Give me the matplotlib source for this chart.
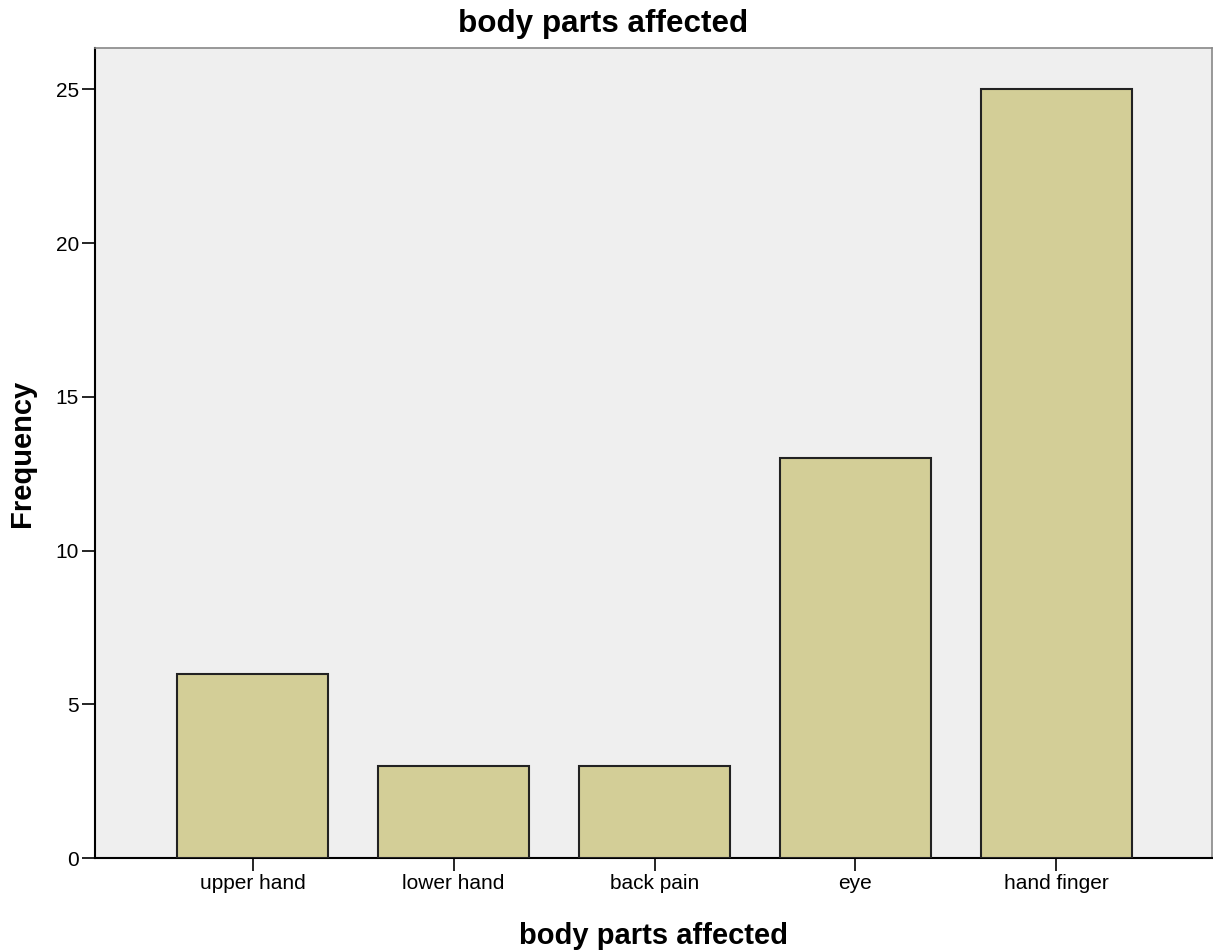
import matplotlib
matplotlib.use("Agg")
import matplotlib.pyplot as plt

categories = ["upper hand", "lower hand", "back pain", "eye", "hand finger"]
frequency = [6, 3, 3, 13, 25]
yticks = [0, 5, 10, 15, 20, 25]

plt.rcParams['font.family'] = ['Liberation Sans', 'DejaVu Sans']

W, H = 1213, 951
fig = plt.figure(figsize=(W / 100, H / 100), dpi=100)
ax = fig.add_axes([95 / W, 1 - 858 / H, (1212 - 95) / W, (858 - 48) / H])
ax.set_facecolor('#EFEFEF')

x = list(range(len(categories)))
ax.bar(x, frequency, width=0.75, color='#D3CE97', edgecolor='#222222', linewidth=1.5, zorder=3)

ax.set_xlim(-0.785, 4.775)
ax.set_ylim(0, 26.35)
ax.set_xticks(x)
ax.set_xticklabels(categories, fontsize=15)
ax.set_yticks(yticks)
ax.set_yticklabels([str(t) for t in yticks], fontsize=15)
ax.tick_params(axis='both', direction='out', length=9.5, width=1.2, colors='black', pad=2)

for s in ['left', 'bottom']:
    ax.spines[s].set_color('black')
    ax.spines[s].set_linewidth(1.5)
for s in ['top', 'right']:
    ax.spines[s].set_color('#888888')
    ax.spines[s].set_linewidth(1.2)

fig.text(603 / W, 1 - 32 / H, "body parts affected", fontsize=22.6, fontweight='bold',
         ha='center', va='baseline')

ax.set_xlabel("body parts affected", fontsize=21, fontweight='bold')
ax.xaxis.set_label_coords(0.5, (858 - 936) / 810)
ax.xaxis.label.set_va('center')
ax.set_ylabel("Frequency", fontsize=21, fontweight='bold')
ax.yaxis.set_label_coords((22 - 95) / 1117, (858 - 453) / 810)
ax.yaxis.label.set_va('center')

fig.savefig("out.png", dpi=100)
